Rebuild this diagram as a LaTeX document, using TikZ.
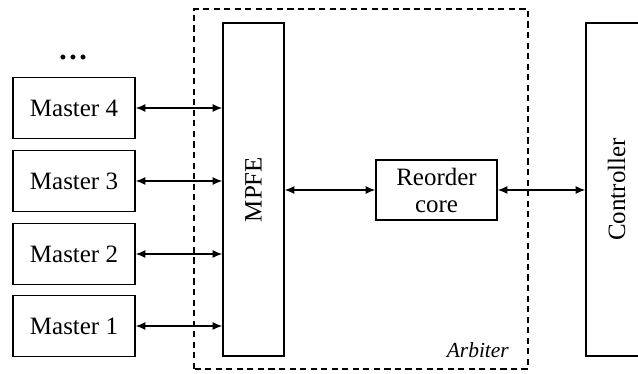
\documentclass[tikz,border=0pt]{standalone}
\usepackage{fontspec}
\setmainfont{Liberation Serif}
\usetikzlibrary{arrows.meta}
\begin{document}
\begin{tikzpicture}[
    font=\fontsize{14.2}{15.4}\selectfont,
    block/.style={draw, line width=0.8pt, minimum width=2.44cm, minimum height=1.22cm, inner sep=0pt},
    tall/.style={draw, line width=0.8pt, minimum width=6.66cm, minimum height=1.22cm, inner sep=0pt, rotate=90},
    link/.style={{Latex[length=5.5pt,width=4.5pt]}-{Latex[length=5.5pt,width=4.5pt]}, line width=0.7pt}]
\clip (0,0) rectangle (12.76,7.48);
% Arbiter region
\draw[line width=0.7pt, dash pattern=on 3.5pt off 2.5pt] (3.88,0.1) rectangle (10.56,7.30);
\node[anchor=south east, font=\fontsize{12.2}{14}\selectfont\itshape] (arb) at (10.3,0.2) {Arbiter};
% Masters
\node[font=\fontsize{17}{18}\selectfont\bfseries] (dots) at (1.46,6.32) {\dots};
\node[block] (m4) at (1.48,5.32) {Master 4};
\node[block] (m3) at (1.48,3.86) {Master 3};
\node[block] (m2) at (1.48,2.40) {Master 2};
\node[block] (m1) at (1.48,0.96) {Master 1};
% Front end, core and controller (rotated: north is the left side)
\node[tall] (mpfe) at (5.07,3.69) {MPFE};
\node[block, align=center, minimum width=2.42cm, minimum height=1.2cm] (core) at (8.73,3.68) {Reorder\\core};
\node[tall] (ctrl) at (12.33,3.69) {Controller};
% Links
\foreach \m in {m1,m2,m3,m4}
  \draw[link] (\m.east) -- (\m.east -| mpfe.north);
\draw[link] (core.west -| mpfe.south) -- (core.west);
\draw[link] (core.east) -- (core.east -| ctrl.north);
\end{tikzpicture}
\end{document}
